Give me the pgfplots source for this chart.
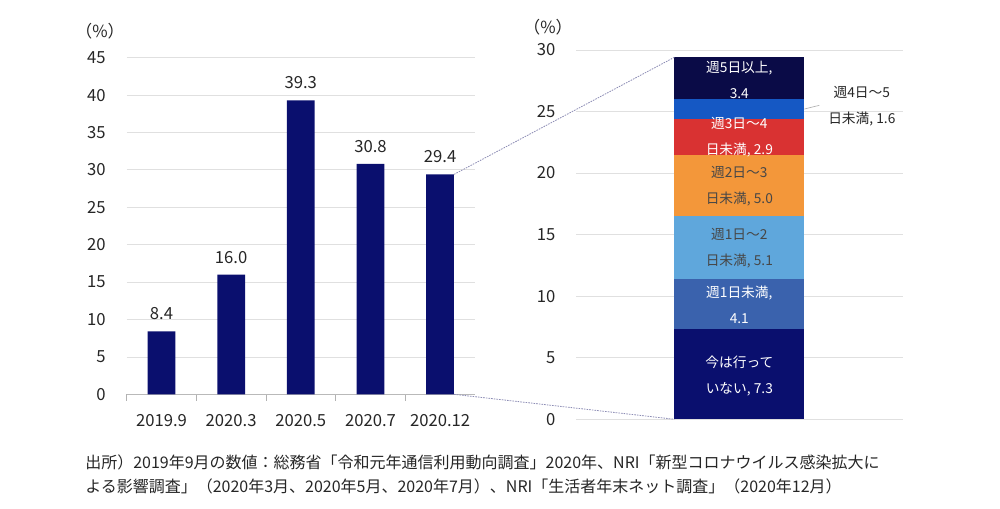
\documentclass[border=0pt]{standalone}
\usepackage{fontspec}
\setmainfont{Noto Sans CJK JP}
\usepackage{pgfplots}
\pgfplotsset{compat=1.18}
\definecolor{navy}{HTML}{0A0F6E}
\definecolor{cfive}{HTML}{0A0B47}
\definecolor{cfour}{HTML}{1558C4}
\definecolor{cthree}{HTML}{D93232}
\definecolor{ctwo}{HTML}{F3973A}
\definecolor{cone}{HTML}{5FA7DC}
\definecolor{czero}{HTML}{3A62AD}
\definecolor{gridc}{HTML}{E0E0E0}
\definecolor{txt}{HTML}{262626}
\definecolor{dashc}{HTML}{8C8CB4}
\tikzset{seglab/.style={align=center, font=\fontsize{10.3pt}{19.5pt}\selectfont}}
\begin{document}
\begin{tikzpicture}
\path[use as bounding box] (0,0) rectangle (750pt,381.75pt);
% left chart
\begin{axis}[
  at={(95pt,86pt)}, anchor=south west, scale only axis,
  width=261.2pt, height=252.5pt,
  xmin=-0.5, xmax=4.5, ymin=0, ymax=45,
  ytick={0,5,...,45},
  xtick={0,...,4}, xticklabels={2019.9,2020.3,2020.5,2020.7,2020.12},
  minor xtick={-0.5,0.5,1.5,2.5,3.5},
  xtick pos=bottom, ytick pos=left,
  tick align=outside,
  major tick style={draw=none},
  minor x tick style={draw=gray!60, line width=0.5pt},
  minor tick length=5pt,
  axis line style={draw=none},
  ymajorgrids, grid style={gridc, line width=0.6pt},
  extra y ticks={0}, extra y tick labels={},
  extra y tick style={grid style={gray!55, line width=0.6pt}},
  /pgf/number format/assume math mode=true,
  ticklabel style={font=\fontsize{12.5pt}{14pt}\selectfont, text=txt},
  yticklabel style={xshift=-8pt},
  xticklabel style={yshift=-7pt},
  clip=false,
]
\addplot[ybar, fill=navy, draw=none, bar width=20.8pt,
  nodes near coords={\pgfmathprintnumber[fixed,fixed zerofill,precision=1]{\pgfplotspointmeta}},
  every node near coord/.append style={font=\fontsize{12.5pt}{14pt}\selectfont, text=txt, yshift=5pt}]
  coordinates {(0,8.4) (1,16.0) (2,39.3) (3,30.8) (4,29.4)};
\coordinate (ltop) at (axis cs:4.2,29.4);
\coordinate (lbot) at (axis cs:4.2,0);
\end{axis}
% right chart
\begin{axis}[
  at={(432pt,67.3pt)}, anchor=south west, scale only axis,
  width=245pt, height=277pt,
  xmin=-1, xmax=1, ymin=0, ymax=30,
  ytick={0,5,...,30}, xtick=\empty,
  ytick pos=left,
  major tick style={draw=none},
  axis line style={draw=none},
  ymajorgrids, grid style={gridc, line width=0.6pt},
  /pgf/number format/assume math mode=true,
  ticklabel style={font=\fontsize{12.5pt}{14pt}\selectfont, text=txt},
  yticklabel style={xshift=-12pt},
  ybar stacked, bar width=97.5pt,
  clip=false,
]
\addplot[fill=navy, draw=none] coordinates {(0,7.3)};
\addplot[fill=czero, draw=none] coordinates {(0,4.1)};
\addplot[fill=cone, draw=none] coordinates {(0,5.1)};
\addplot[fill=ctwo, draw=none] coordinates {(0,5.0)};
\addplot[fill=cthree, draw=none] coordinates {(0,2.9)};
\addplot[fill=cfour, draw=none] coordinates {(0,1.6)};
\addplot[fill=cfive, draw=none] coordinates {(0,3.4)};
\coordinate (rtop) at (axis cs:-0.398,29.4);
\coordinate (rbot) at (axis cs:-0.398,0);
\coordinate (s0) at (axis cs:0,3.55);
\coordinate (s1) at (axis cs:0,9.27);
\coordinate (s2) at (axis cs:0,13.93);
\coordinate (s3) at (axis cs:0,18.9);
\coordinate (s4) at (axis cs:0,22.9);
\coordinate (s5) at (axis cs:0,27.6);
\coordinate (s6) at (axis cs:0.75,25.4);
\coordinate (la) at (axis cs:0.398,25.2);
\coordinate (lb) at (axis cs:0.49,25.5);
\end{axis}
\node[seglab, text=white] at (s0) {今は行って\\いない, 7.3};
\node[seglab, text=white] at (s1) {週1日未満,\\4.1};
\node[seglab, text=txt!85] at (s2) {週1日〜2\\日未満, 5.1};
\node[seglab, text=txt!85] at (s3) {週2日〜3\\日未満, 5.0};
\node[seglab, text=white] at (s4) {週3日〜4\\日未満, 2.9};
\node[seglab, text=white] at (s5) {週5日以上,\\3.4};
\node[seglab, text=txt] at (s6) {週4日〜5\\日未満, 1.6};
\draw[gray!60, line width=0.5pt] (la) -- (lb);
\draw[dashc, dash pattern=on 1.2pt off 0.8pt, line width=0.6pt] (ltop) -- (rtop);
\draw[dashc, dash pattern=on 1.2pt off 0.8pt, line width=0.6pt] (lbot) -- (rbot);
\node[text=txt, font=\fontsize{12.5pt}{14pt}\selectfont] at (75pt,358.5pt) {（\%）};
\node[text=txt, font=\fontsize{12.5pt}{14pt}\selectfont] at (411pt,361.5pt) {（\%）};
\node[anchor=west, text=txt, inner sep=0pt, font=\fontsize{12pt}{14pt}\selectfont] at (63.75pt,35.25pt) {出所）2019年9月の数値：総務省「令和元年通信利用動向調査」2020年、NRI「新型コロナウイルス感染拡大に};
\node[anchor=west, text=txt, inner sep=0pt, font=\fontsize{12pt}{14pt}\selectfont] at (63.75pt,17.25pt) {よる影響調査」（2020年3月、2020年5月、2020年7月）、NRI「生活者年末ネット調査」（2020年12月）};
\end{tikzpicture}
\end{document}
